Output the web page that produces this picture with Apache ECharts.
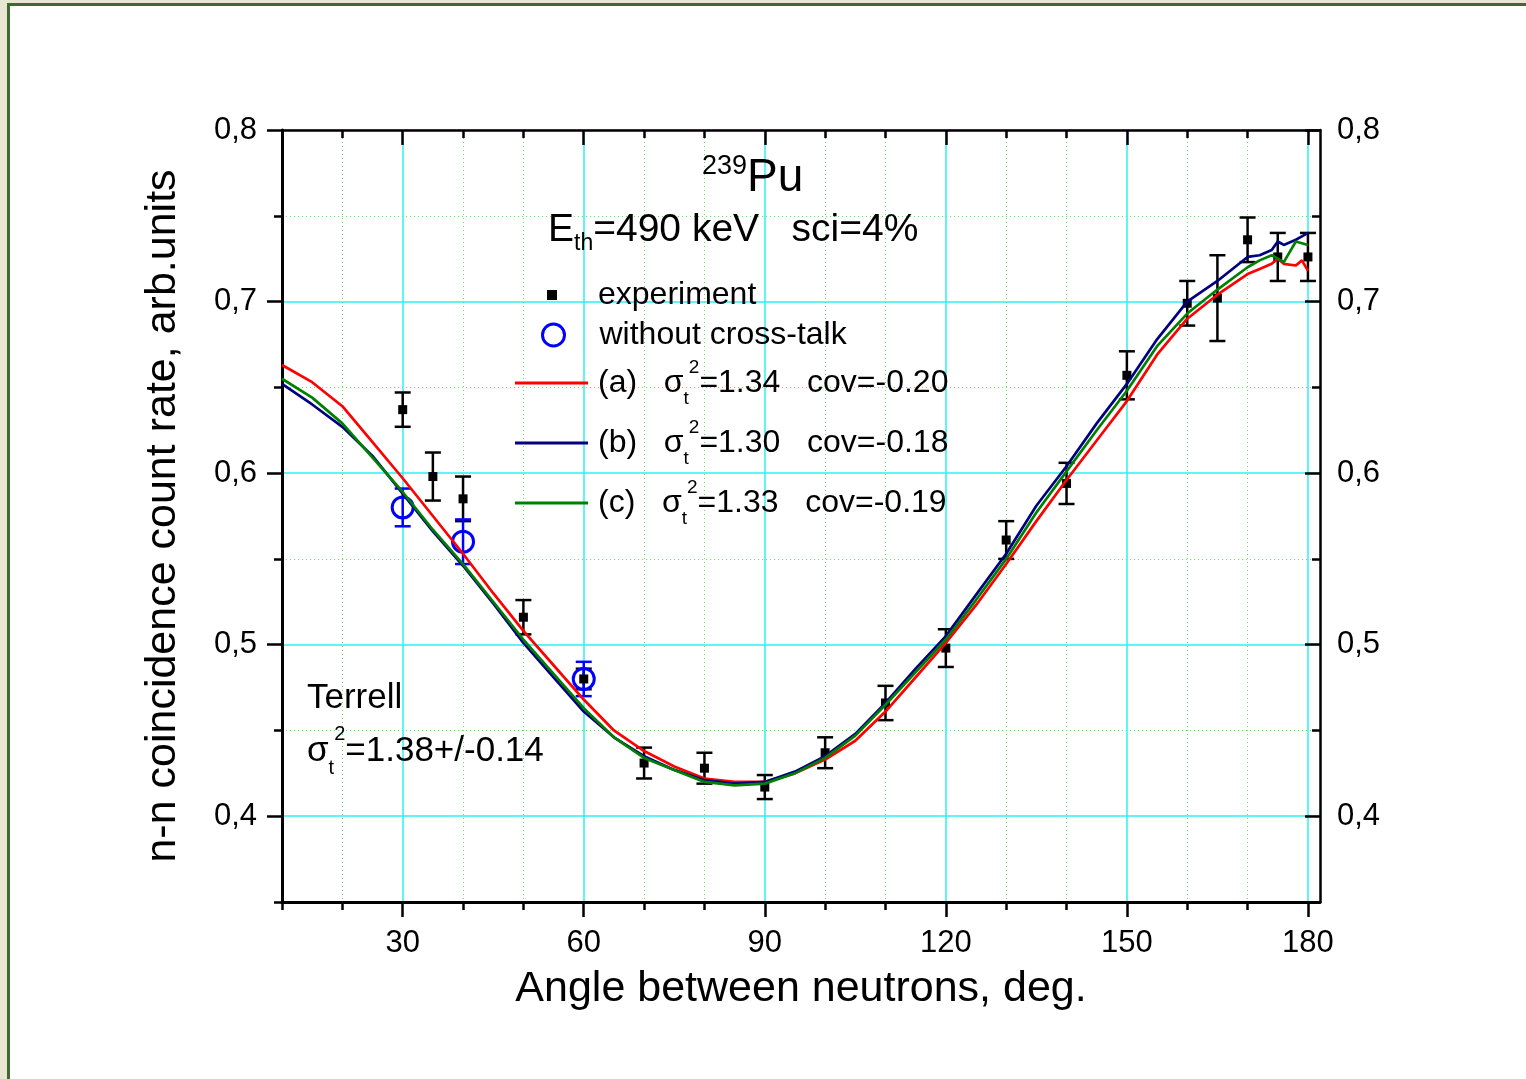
<!DOCTYPE html>
<html>
<head>
<meta charset="utf-8">
<script src="https://cdn.jsdelivr.net/npm/echarts@6/dist/echarts.min.js"></script>
<style>
html, body { margin: 0; padding: 0; width: 1526px; height: 1079px; overflow: hidden; background: #e9e5d3; }
#frame { position: absolute; left: 7px; top: 3px; right: 0; bottom: 0; background: #fff; border-left: 3px solid #3f6a2f; border-top: 3px solid #3f6a2f; }
#chart { position: absolute; left: 0; top: 0; width: 1526px; height: 1079px; }
</style>
</head>
<body>
<div id="frame"></div>
<div id="chart"></div>
<script>
// axis ticks
var majorX = [30, 60, 90, 120, 150, 180];
var minorX = [10, 20, 40, 50, 70, 80, 100, 110, 130, 140, 160, 170];
var majorY = [0.4, 0.5, 0.6, 0.7, 0.8];
var minorY = [0.35, 0.45, 0.55, 0.65, 0.75];

// experiment points
var expAngles = [30, 35, 40, 50, 60, 70, 80, 90, 100, 110, 120, 130, 140, 150, 160, 165, 170, 175, 180];
var expValues = [0.637, 0.598, 0.585, 0.516, 0.480, 0.431, 0.428, 0.417, 0.437, 0.466, 0.498, 0.561, 0.594, 0.657, 0.699, 0.702, 0.736, 0.726, 0.726];
var expErrors = [0.010, 0.014, 0.013, 0.010, 0.006, 0.009, 0.009, 0.007, 0.009, 0.010, 0.011, 0.011, 0.012, 0.014, 0.013, 0.025, 0.013, 0.014, 0.014];

// without cross-talk
var ncAngles = [30, 40, 60];
var ncValues = [0.580, 0.560, 0.480];
var ncErrors = [0.011, 0.013, 0.010];

// calculated curves
var curveAngles = [10, 15, 20, 25, 30, 35, 40, 45, 50, 55, 60, 65, 70, 75, 80, 85, 90, 95, 100, 105, 110, 115, 120, 125, 130, 135, 140, 145, 150, 155, 160, 165, 170, 172, 174, 175, 176, 178, 179, 180];
var curveA = [0.663, 0.653, 0.639, 0.618, 0.597, 0.575, 0.553, 0.530, 0.508, 0.488, 0.468, 0.450, 0.438, 0.429, 0.422, 0.420, 0.420, 0.425, 0.433, 0.444, 0.461, 0.481, 0.501, 0.523, 0.547, 0.572, 0.596, 0.619, 0.642, 0.669, 0.690, 0.704, 0.716, 0.719, 0.722, 0.725, 0.722, 0.721, 0.724, 0.718];
var curveB = [0.652, 0.640, 0.627, 0.610, 0.588, 0.566, 0.546, 0.524, 0.501, 0.481, 0.461, 0.446, 0.435, 0.427, 0.421, 0.419, 0.420, 0.426, 0.435, 0.448, 0.466, 0.486, 0.505, 0.529, 0.553, 0.581, 0.604, 0.629, 0.652, 0.678, 0.700, 0.712, 0.726, 0.727, 0.730, 0.735, 0.733, 0.736, 0.738, 0.740];
var curveC = [0.655, 0.644, 0.629, 0.609, 0.589, 0.567, 0.547, 0.525, 0.503, 0.483, 0.463, 0.446, 0.434, 0.427, 0.420, 0.418, 0.419, 0.425, 0.434, 0.447, 0.465, 0.484, 0.503, 0.526, 0.550, 0.577, 0.601, 0.625, 0.648, 0.674, 0.693, 0.707, 0.720, 0.724, 0.727, 0.725, 0.723, 0.735, 0.734, 0.733];

var curveNames = ['(a)', '(b)', '(c)'];
var curveColors = ['#ff0000', '#000080', '#008000'];
var sigmaVals = ['1.34', '1.30', '1.33'];
var covVals = ['-0.20', '-0.18', '-0.19'];

var FONT = 'Liberation Sans, Arial, Helvetica, sans-serif';
var CYAN = '#2cf0f4';
var LGREEN = '#5aea5a';

function pairs(xs, ys) {
    return xs.map(function (x, i) { return [x, ys[i]]; });
}
function triples(xs, ys, es) {
    return xs.map(function (x, i) { return [x, ys[i], es[i]]; });
}
function comma(v) {
    return v.toFixed(1).replace('.', ',');
}

function errorBar(color) {
    return function (params, api) {
        var x = api.value(0), y = api.value(1), e = api.value(2);
        var top = api.coord([x, y + e]);
        var bot = api.coord([x, y - e]);
        var w = 8;
        var st = { stroke: color, lineWidth: 2.5 };
        return {
            type: 'group',
            children: [
                { type: 'line', shape: { x1: top[0], y1: top[1], x2: bot[0], y2: bot[1] }, style: st },
                { type: 'line', shape: { x1: top[0] - w, y1: top[1], x2: top[0] + w, y2: top[1] }, style: st },
                { type: 'line', shape: { x1: bot[0] - w, y1: bot[1], x2: bot[0] + w, y2: bot[1] }, style: st }
            ]
        };
    };
}

var subsup = {
    s: { fontSize: 32, fontFamily: FONT, lineHeight: 50 },
    lo: { fontSize: 19, fontFamily: FONT, lineHeight: 15, verticalAlign: 'bottom' },
    hi: { fontSize: 19, fontFamily: FONT, lineHeight: 26, verticalAlign: 'top' }
};

function xAxisOf(pos, ticks, len, inside, extra) {
    var a = {
        type: 'value', position: pos, min: 10, max: 182,
        axisLine: { show: false, onZero: false },
        axisTick: { show: true, inside: inside, length: len, customValues: ticks, lineStyle: { color: '#000', width: 2.5 } },
        axisLabel: { show: false },
        splitLine: { show: false },
        axisPointer: { show: false }
    };
    return Object.assign(a, extra || {});
}
function yAxisOf(pos, ticks, len, inside, extra) {
    var a = {
        type: 'value', position: pos, min: 0.35, max: 0.8,
        axisLine: { show: false, onZero: false },
        axisTick: { show: true, inside: inside, length: len, customValues: ticks, lineStyle: { color: '#000', width: 2.5 } },
        axisLabel: { show: false },
        splitLine: { show: false },
        axisPointer: { show: false }
    };
    return Object.assign(a, extra || {});
}

var chart = echarts.init(document.getElementById('chart'));

var series = [
    {
        name: 'expErr', type: 'custom', renderItem: errorBar('#000'),
        data: triples(expAngles, expValues, expErrors),
        encode: { x: 0, y: 1 }, z: 2, silent: true
    },
    {
        name: 'experiment', type: 'scatter', symbol: 'rect', symbolSize: 9,
        data: pairs(expAngles, expValues),
        itemStyle: { color: '#000', opacity: 1 }, z: 3, silent: true
    },
    {
        name: 'ncErr', type: 'custom', renderItem: errorBar('#0000ff'),
        data: triples(ncAngles, ncValues, ncErrors),
        encode: { x: 0, y: 1 }, z: 2, silent: true
    },
    {
        name: 'without cross-talk', type: 'scatter', symbol: 'circle', symbolSize: 21,
        data: pairs(ncAngles, ncValues),
        itemStyle: { color: 'rgba(0,0,0,0)', borderColor: '#0000ff', borderWidth: 3, opacity: 1 }, z: 3, silent: true
    }
];
[curveA, curveB, curveC].forEach(function (vals, i) {
    series.push({
        name: curveNames[i], type: 'line', symbol: 'none', showSymbol: false,
        data: pairs(curveAngles, vals),
        lineStyle: { color: curveColors[i], width: 2.7 },
        itemStyle: { color: curveColors[i] },
        z: 5, silent: true
    });
});

var option = {
    animation: false,
    grid: { left: 282, right: 206, top: 130, bottom: 177, outerBoundsMode: 'none', containLabel: false },
    title: [
        {
            text: '{hi|239}Pu', left: 702, top: 153, padding: 0,
            textStyle: {
                fontSize: 46, fontWeight: 'normal', fontFamily: FONT, color: '#000', lineHeight: 50,
                rich: { hi: { fontSize: 27, fontFamily: FONT, lineHeight: 16, verticalAlign: 'top' } }
            }
        },
        {
            text: 'E{lo|th}=490 keV   sci=4%', left: 548, top: 205, padding: 0,
            textStyle: {
                fontSize: 39, fontWeight: 'normal', fontFamily: FONT, color: '#000', lineHeight: 50,
                rich: { lo: { fontSize: 23, fontFamily: FONT, lineHeight: 14, verticalAlign: 'bottom' } }
            }
        },
        {
            text: 'Terrell', left: 307, top: 678, padding: 0,
            textStyle: { fontSize: 35, fontWeight: 'normal', fontFamily: FONT, color: '#000', lineHeight: 40 }
        },
        {
            text: 'σ{lo|t}{hi|2}=1.38+/-0.14', left: 307, top: 724, padding: 0,
            textStyle: {
                fontSize: 35, fontWeight: 'normal', fontFamily: FONT, color: '#000', lineHeight: 54,
                rich: {
                    lo: { fontSize: 20, fontFamily: FONT, lineHeight: 14, verticalAlign: 'bottom' },
                    hi: { fontSize: 20, fontFamily: FONT, lineHeight: 20, verticalAlign: 'top' }
                }
            }
        }
    ],
    legend: [
        {
            data: ['experiment'], orient: 'vertical', left: 547, top: 277, padding: 0,
            itemWidth: 10, itemHeight: 10, selectedMode: false,
            itemStyle: { borderWidth: 0, opacity: 1 },
            textStyle: { fontSize: 32, fontFamily: FONT, color: '#000', lineHeight: 36, padding: [0, 0, 0, 36] }
        },
        {
            data: ['without cross-talk'], orient: 'vertical', left: 541, top: 317, padding: 0,
            itemWidth: 22, itemHeight: 22, selectedMode: false,
            itemStyle: { borderWidth: 3, borderColor: '#0000ff', color: 'rgba(0,0,0,0)', opacity: 1 },
            textStyle: { fontSize: 32, fontFamily: FONT, color: '#000', lineHeight: 36, padding: [0, 0, 0, 30] }
        },
        {
            data: curveNames, orient: 'vertical', left: 515, top: 358, padding: 0,
            icon: 'rect', itemWidth: 73, itemHeight: 3, itemGap: 10, selectedMode: false,
            itemStyle: { borderWidth: 0, opacity: 1 },
            formatter: function (name) {
                var i = curveNames.indexOf(name);
                return name + '   {s|σ}{lo|t}{hi|2}=' + sigmaVals[i] + '   cov=' + covVals[i];
            },
            textStyle: { fontSize: 32, fontFamily: FONT, color: '#000', lineHeight: 50, padding: [0, 0, 0, 5], rich: subsup }
        }
    ],
    xAxis: [
        xAxisOf('bottom', majorX, 15, false, {
            axisLine: { show: true, onZero: false, lineStyle: { color: '#000', width: 3 } },
            axisLabel: {
                show: true, customValues: majorX, margin: 26, fontSize: 31, fontFamily: FONT, color: '#000'
            },
            splitLine: { show: true, lineStyle: { color: CYAN, width: 1.5 } },
            name: 'Angle between neutrons, deg.', nameLocation: 'middle', nameGap: 66,
            nameTextStyle: { fontSize: 43, fontFamily: FONT, color: '#000' }
        }),
        xAxisOf('bottom', minorX, 8, false, {
            splitLine: { show: true, lineStyle: { color: LGREEN, width: 1, type: [1, 3] } }
        }),
        xAxisOf('top', majorX, 15, true, {
            axisLine: { show: true, onZero: false, lineStyle: { color: '#000', width: 2.5 } }
        }),
        xAxisOf('top', minorX, 8, true)
    ],
    yAxis: [
        yAxisOf('left', majorY, 15, false, {
            axisLine: { show: true, onZero: false, lineStyle: { color: '#000', width: 3 } },
            axisLabel: {
                show: true, customValues: majorY, margin: 25, fontSize: 31, fontFamily: FONT, color: '#000',
                formatter: comma
            },
            splitLine: { show: true, lineStyle: { color: CYAN, width: 1.5 } },
            name: 'n-n coincidence count rate, arb.units', nameLocation: 'middle', nameGap: 97,
            nameTextStyle: { fontSize: 43, fontFamily: FONT, color: '#000' }
        }),
        yAxisOf('left', minorY, 8, false, {
            splitLine: { show: true, lineStyle: { color: LGREEN, width: 1, type: [1, 3] } }
        }),
        yAxisOf('right', majorY, 15, true, {
            axisLine: { show: true, onZero: false, lineStyle: { color: '#000', width: 2.5 } },
            axisLabel: {
                show: true, customValues: majorY, margin: 17, fontSize: 31, fontFamily: FONT, color: '#000',
                formatter: comma
            }
        }),
        yAxisOf('right', minorY, 8, true)
    ],
    series: series
};

chart.setOption(option);
</script>
</body>
</html>
